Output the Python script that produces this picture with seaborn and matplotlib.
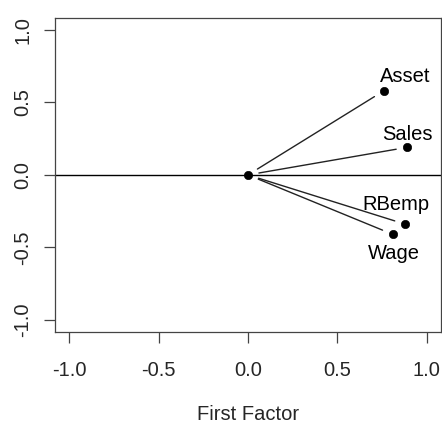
import numpy as np
import pandas as pd
import seaborn as sns
import matplotlib
matplotlib.use("Agg")
import matplotlib.pyplot as plt

# factor loadings
variables = ["Asset", "Sales", "RBemp", "Wage"]
first_factor = [0.76, 0.89, 0.88, 0.81]
second_factor = [0.58, 0.19, -0.34, -0.41]
# label offsets (points) relative to each point
label_dx = [15.5, 0.5, -6.8, 0.8]
label_dy = [10.5, 9.5, 14.5, -13.5]

ticks = [-1.0, -0.5, 0.0, 0.5, 1.0]


def main():
    sns.set_style("white")
    plt.rcParams["font.family"] = ["Liberation Sans", "DejaVu Sans"]

    df = pd.DataFrame({"var": variables, "f1": first_factor, "f2": second_factor})

    fig = plt.figure(figsize=(4.42, 4.24), dpi=100)
    ax = fig.add_axes([0.124, 0.218, 0.874, 0.739])

    ax.axhline(0, color="black", lw=1.0, zorder=1)

    # segments from origin to each loading, shortened at both ends
    for _, r in df.iterrows():
        ax.annotate("", xy=(r.f1, r.f2), xytext=(0, 0),
                    arrowprops=dict(arrowstyle="-", color="#222222", lw=1.0,
                                    shrinkA=8, shrinkB=8))

    sns.scatterplot(x=[0.0], y=[0.0], ax=ax, color="black", s=36, edgecolor="black", zorder=3)
    sns.scatterplot(data=df, x="f1", y="f2", ax=ax, color="black", s=36, edgecolor="black", zorder=3)

    for (_, r), dx, dy in zip(df.iterrows(), label_dx, label_dy):
        ax.annotate(r["var"], xy=(r.f1, r.f2), xytext=(dx, dy), textcoords="offset points",
                    ha="center", va="center", fontsize=14.5, color="black")

    ax.set_xlim(-1.08, 1.08)
    ax.set_ylim(-1.08, 1.08)
    ax.set_xticks(ticks)
    ax.set_yticks(ticks)
    ax.set_xticklabels([f"{t:.1f}" for t in ticks], fontsize=14.5)
    ax.set_yticklabels([f"{t:.1f}" for t in ticks], fontsize=14.5, rotation=90, va="center")
    ax.tick_params(axis="both", direction="out", length=8, width=0.9, color="#444444",
                   bottom=True, left=True)
    ax.tick_params(axis="x", pad=13)
    ax.tick_params(axis="y", pad=8)
    ax.set_xlabel("First Factor", fontsize=14.5, labelpad=18)
    ax.set_ylabel("")
    for s in ax.spines.values():
        s.set_color("#444444")
        s.set_linewidth(0.9)

    fig.savefig("out.png", dpi=100)


if __name__ == "__main__":
    main()
